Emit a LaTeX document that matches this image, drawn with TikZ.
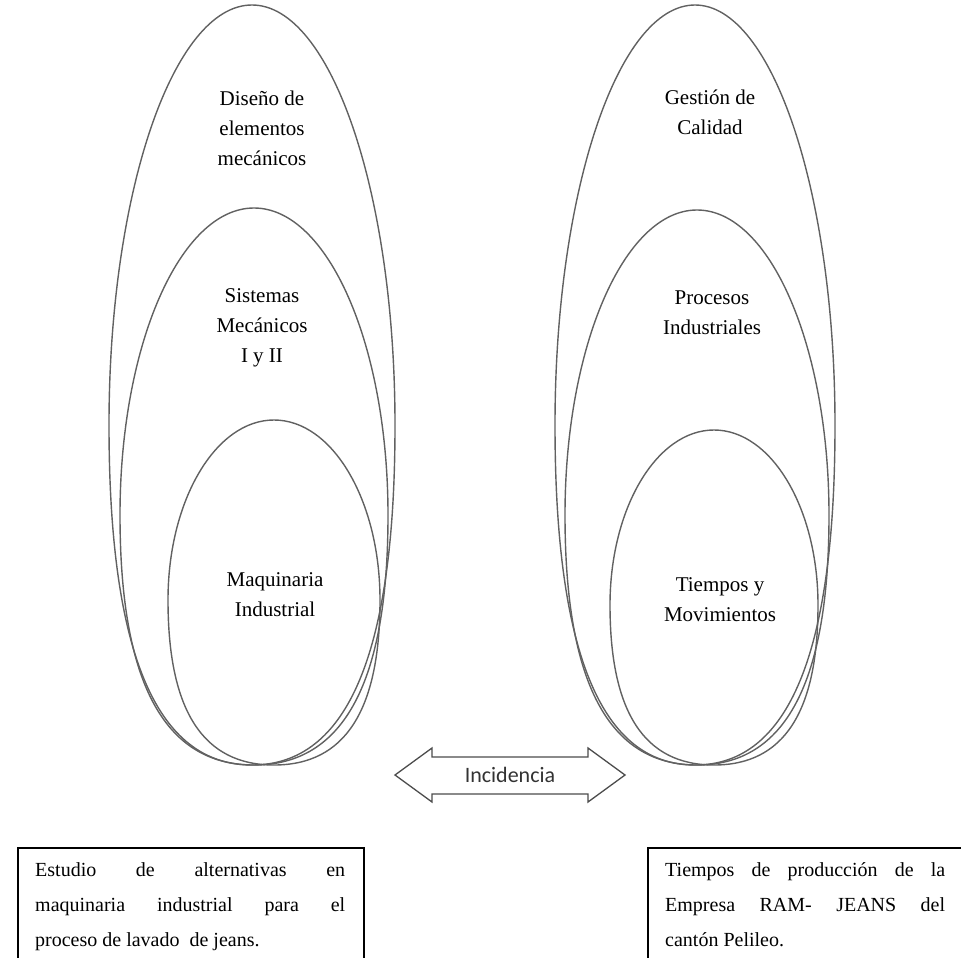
\documentclass[tikz,border=0pt]{standalone}
\usepackage{fontspec}
\setmainfont{Liberation Serif}
\newfontfamily\calib{Carlito}
% #1 cx, #2 cy (widest line), #3 rx, #4 top half-height, #5 bottom half-height
\newcommand\eggshape[5]{%
  \draw[ell] ({#1-#3},{#2})
    .. controls ({#1-#3},{#2-0.5523*#4}) and ({#1-0.5523*#3},{#2-#4}) .. ({#1},{#2-#4})
    .. controls ({#1+0.5523*#3},{#2-#4}) and ({#1+#3},{#2-0.5523*#4}) .. ({#1+#3},{#2})
    .. controls ({#1+#3},{#2+0.67*#5}) and ({#1+0.67*#3},{#2+#5}) .. ({#1},{#2+#5})
    .. controls ({#1-0.67*#3},{#2+#5}) and ({#1-#3},{#2+0.67*#5}) .. ({#1-#3},{#2}) -- cycle;}
\begin{document}
\begin{tikzpicture}[x=1pt,y=-1pt,
  ell/.style={draw=black!62, line width=1.4pt},
  lbl/.style={align=center, font=\fontsize{21}{30}\selectfont, inner sep=0pt},
  boxtxt/.style={align=justify, font=\fontsize{20}{35}\selectfont, inner sep=0pt, anchor=north west},
  frame/.style={draw=black, line width=1.4pt},
  arr/.style={draw=black!70, line width=1.3pt, line join=miter}]
\useasboundingbox (0,0) rectangle (961,958);
% left group
\eggshape{252}{425}{143}{420}{340}
\eggshape{254}{515}{134}{307}{250}
\eggshape{274}{600}{106}{180}{165}
\node[lbl] (t1) at (262,128) {Diseño de\\elementos\\mecánicos};
\node[lbl] (t2) at (262,328) {Sistemas\\Mecánicos\\I y II};
\node[lbl] (t3) at (275,595) {Maquinaria\\Industrial};
% right group
\eggshape{695}{425}{140}{420}{340}
\eggshape{697}{515}{132}{305}{250}
\eggshape{714}{605}{104}{175}{160}
\node[lbl] (t4) at (710,112) {Gestión de\\Calidad};
\node[lbl] (t5) at (712,313) {Procesos\\Industriales};
\node[lbl] (t6) at (720,600) {Tiempos y\\Movimientos};
% arrow
\draw[arr] (395,775) -- (432,748) -- (432,757) -- (588,757) -- (588,748) -- (625,775)
  -- (588,802) -- (588,794) -- (432,794) -- (432,802) -- cycle;
\node[font=\calib\fontsize{22}{26}\selectfont, text=black!80, inner sep=0pt] (inc) at (510,775) {Incidencia};
% boxes
\draw[frame] (18,962) -- (18,848) -- (364,848) -- (364,962);
\draw[frame] (648,962) -- (648,848) -- (966,848);
\node[boxtxt, text width=310pt] (b1) at (35,862) {Estudio de alternativas en\linebreak maquinaria industrial para el\linebreak proceso de lavado\ \ de jeans.};
\node[boxtxt, text width=280pt] (b2) at (665,862) {Tiempos de producción de la\linebreak Empresa RAM- JEANS del\linebreak cantón Pelileo.};
\end{tikzpicture}
\end{document}
